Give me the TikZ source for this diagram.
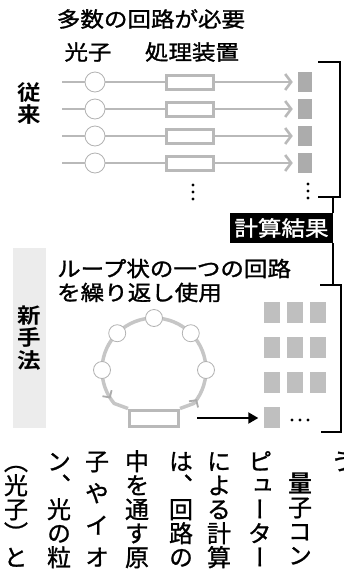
\documentclass[tikz,border=0pt]{standalone}
\usepackage{fontspec}
\newfontfamily\jpw[FakeStretch=1.12, FakeBold=1.4]{Noto Sans CJK JP}
\newfontfamily\jpb[FakeStretch=1.12]{Noto Sans CJK JP Bold}
\newfontfamily\jpt[RawFeature=+vert, FakeBold=1.0]{Noto Sans CJK JP}
\newfontfamily\jptb[RawFeature=+vert]{Noto Sans CJK JP Bold}
\usetikzlibrary{arrows.meta,calc,decorations.markings}
% one upright cell of vertical text (1em x 1em); the font's vertical forms are used
\newcommand\vcell[1]{\hbox to 1em{\hss\vrule width0pt height0.88em depth0.12em\smash{#1}\hss}}
\begin{document}
\begin{tikzpicture}[x=1pt,y=1pt,
  lab/.style={font=\jpw\fontsize{21}{23}\selectfont, inner sep=0pt},
  blab/.style={font=\jpb\fontsize{21}{22.5}\selectfont, inner sep=0pt, align=center},
  feed/.style={draw=gray!55, line width=2.6pt},
  photon/.style={circle, draw=gray!60, line width=0.8pt, fill=white, minimum size=20pt, inner sep=0pt},
  proc/.style={rectangle, draw=gray!55, line width=3pt, fill=white, minimum width=47pt, minimum height=14pt, inner sep=0pt},
  qsq/.style={rectangle, fill=gray!65, minimum width=14pt, minimum height=20pt, inner sep=0pt},
  gsq/.style={rectangle, fill=gray!50, minimum width=16pt, minimum height=21pt, inner sep=0pt},
  brk/.style={draw=black, line width=1.3pt},
  ring/.style={draw=gray!45, line width=3.5pt},
  ringtip/.style={gray!65},
  vcol/.style={anchor=north, inner sep=0pt, font=\jpt\fontsize{24}{24}\selectfont},
]
\useasboundingbox (0,0) rectangle (344,-571);

% ---------- upper part ----------
\node[lab] (title) at (151,-19) {多数の回路が必要};
\node[lab] (lphoton) at (88,-52) {光子};
\node[lab] (lproc) at (192,-52) {処理装置};
\node[blab] (conv) at (29.5,-103.5) {従\\来};

\foreach \i/\y in {1/82,2/109,3/136,4/163} {
  \coordinate (st\i) at (62,-\y);
  \node[photon] (c\i) at (95,-\y) {};
  \node[proc] (b\i) at (190,-\y) {};
  \node[qsq] (s\i) at (305,-\y) {};
  \draw[feed] (st\i) -- (c\i);
  \draw[feed] (c\i) -- (b\i);
  \draw[feed, -{Straight Barb[length=6pt,width=16pt]}, shorten >=5pt] (b\i) -- (s\i);
}
\foreach \y in {185,192,199} \fill (193,-\y) circle (1.7pt);
\foreach \y in {184,191,198} \fill (308,-\y) circle (1.7pt);

% ---------- brackets and result ----------
\coordinate (ub1) at (318,-62);
\coordinate (ub2) at (340,-62);
\coordinate (ub3) at (340,-197);
\coordinate (ub4) at (318,-197);
\coordinate (ubstem) at (333,-197);
\draw[brk] (ub1) -- (ub2) -- (ub3) -- (ub4);
\node[rectangle, fill=black, text=white, minimum width=103pt, minimum height=30pt, inner sep=0pt,
      font=\jpw\fontsize{21}{23}\selectfont] (res) at (281.5,-228) {計算結果};
\draw[brk] (ubstem) -- (ubstem |- res.north);
\coordinate (lbstem) at (333,-285);
\draw[brk] (ubstem |- res.south) -- (lbstem);
\coordinate (lb1) at (320,-285);
\coordinate (lb2) at (341,-285);
\coordinate (lb3) at (341,-432);
\coordinate (lb4) at (321,-432);
\draw[brk] (lb1) -- (lb2) -- (lb3) -- (lb4);

% ---------- new method ----------
\node[lab, anchor=west] (loopt1) at (57,-268.5) {ループ状の一つの回路};
\node[lab, anchor=west] (loopt2) at (57,-292.5) {を繰り返し使用};
\node[blab, fill=gray!15, minimum width=33pt, minimum height=180pt] (newm) at (29.5,-338) {新\\手\\法};

\coordinate (ctr) at (154,-370);
\node[proc, minimum width=49pt, minimum height=16pt] (lbox) at (154,-418) {};
\draw[ring, postaction={decorate}, decoration={markings,
    mark=at position 20pt with {\arrow[ringtip]{Straight Barb[length=5pt,width=11pt,line width=1.8pt]}},
    mark=at position -21pt with {\arrow[ringtip]{Straight Barb[length=5pt,width=11pt,line width=1.8pt]}}}]
  (lbox.north east) -- ($(ctr)+(-40:52)$) arc[start angle=-40, end angle=220, radius=52] -- (lbox.north west);
\foreach \a [count=\k] in {0,45,90,135,180}
  \node[photon, minimum size=17pt] (q\k) at ($(ctr)+(\a:52)$) {};

\foreach \r/\y in {1/312,2/347,3/382}
  \foreach \c/\x in {1/271.5,2/294.5,3/317.5}
    \node[gsq] (g\r\c) at (\x,-\y) {};
\node[gsq] (g41) at (271.5,-417) {};
\foreach \x in {292,300,308} \fill (\x,-420) circle (1.7pt);
\draw[line width=2pt, -{Triangle[length=10pt,width=11pt]}, shorten <=17pt, shorten >=5pt]
  (lbox.east) -- (lbox.east -| g41.west);

% ---------- vertical body text ----------
\node[vcol] (t0) at (343,-449) {\vbox{\offinterlineskip\vcell{う}}};
\node[vcol] (t1) at (300,-471) {\vbox{\offinterlineskip\vcell{\jptb 量}\vcell{子}\vcell{コ}\vcell{ン}}};
\node[vcol] (t2) at (260,-449) {\vbox{\offinterlineskip\vcell{ピ}\vcell{ュ}\vcell{ー}\vcell{タ}\vcell{ー}}};
\node[vcol] (t3) at (219,-449) {\vbox{\offinterlineskip\vcell{に}\vcell{よ}\vcell{る}\vcell{計}\vcell{算}}};
\node[vcol] (t4) at (181,-449) {\vbox{\offinterlineskip\vcell{は}\vcell{、}\vcell{回}\vcell{路}\vcell{の}}};
\node[vcol] (t5) at (137,-449) {\vbox{\offinterlineskip\vcell{中}\vcell{を}\vcell{通}\vcell{す}\vcell{原}}};
\node[vcol] (t6) at (97,-449) {\vbox to 117pt{\offinterlineskip\vcell{子}\vfill\vcell{や}\vfill\vcell{イ}\vfill\vcell{オ}}};
\node[vcol] (t7) at (59,-449) {\vbox{\offinterlineskip\vcell{ン}\vcell{、}\vcell{光}\vcell{の}\vcell{粒}}};
\node[vcol] (t8) at (16,-449) {\vbox{\offinterlineskip\vcell{（}\vcell{光}\vcell{子}\vcell{）}\vcell{と}}};
\end{tikzpicture}
\end{document}
